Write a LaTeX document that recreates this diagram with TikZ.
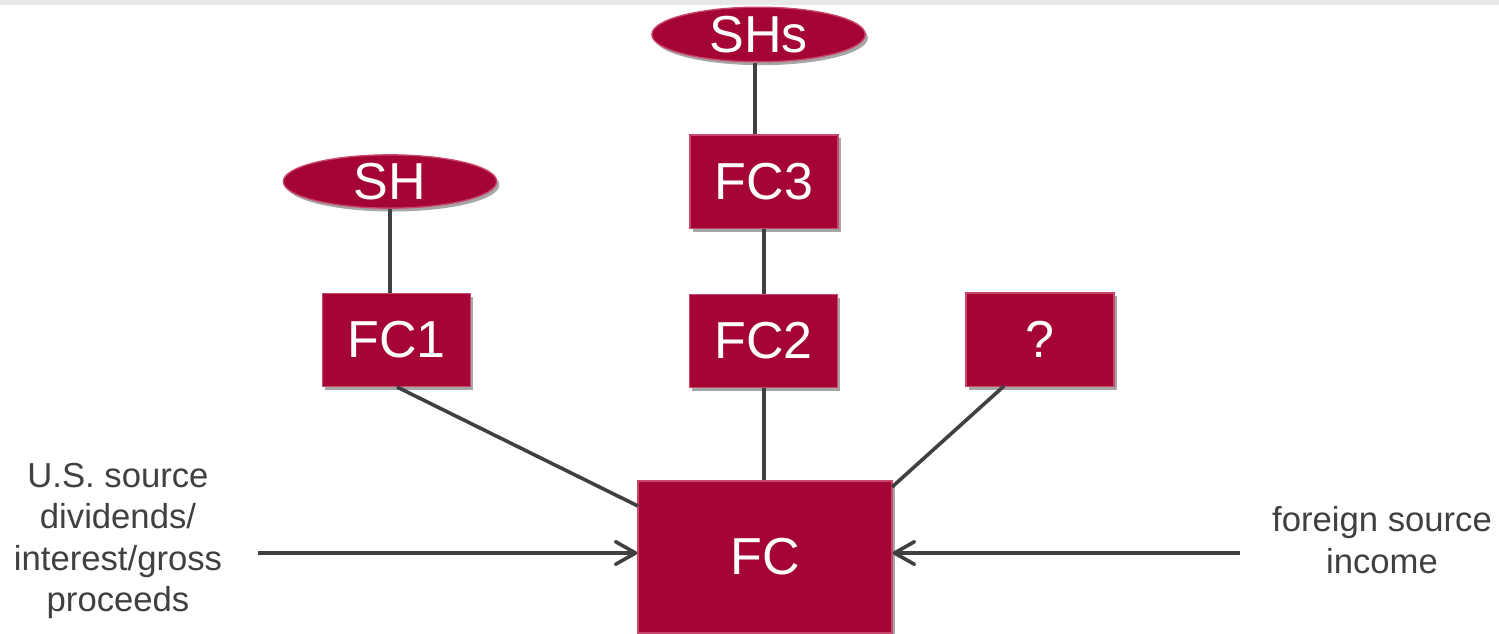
\documentclass[tikz,border=0pt]{standalone}
\usepackage{fontspec}
\setmainfont{Liberation Sans}
\usetikzlibrary{shapes.geometric,shadows,arrows.meta}
\definecolor{crim}{HTML}{A50534}
\definecolor{crimedge}{HTML}{C8476C}
\definecolor{lin}{HTML}{404040}
\definecolor{bar}{HTML}{E8E8E8}
\tikzset{
  shad/.style={drop shadow={shadow xshift=2pt,shadow yshift=-2.5pt,opacity=0.35,fill=black}},
  entbox/.style={rectangle,fill=crim,draw=crimedge,line width=1pt,text=white,inner sep=0pt,
     minimum width=111pt,minimum height=70pt,font=\fontsize{39}{44}\selectfont,shad},
  shell/.style={ellipse,fill=crim,draw=crimedge,line width=1pt,text=white,inner sep=0pt,
     font=\fontsize{39}{44}\selectfont,shad},
  conn/.style={draw=lin,line width=2.7pt},
  arr/.style={conn,-{Straight Barb[length=15pt,width=17pt,line cap=round,line join=round]}},
  lab/.style={align=center,text=lin,font=\fontsize{26}{31}\selectfont,inner sep=0pt}
}
\begin{document}
\begin{tikzpicture}[x=0.75pt,y=-0.75pt]
\useasboundingbox (0,0) rectangle (1499,633);
\fill[bar] (0,0) rectangle (1499,5);
\node[shell,minimum width=160pt,minimum height=41pt] (shs) at (758.5,34.5) {SHs};
\node[shell,minimum width=160pt,minimum height=40pt] (sh) at (390,181.5) {SH};
\node[entbox] (fc3) at (764,181.5) {FC3};
\node[entbox] (fc1) at (396.5,340) {FC1};
\node[entbox] (fc2) at (763.5,341) {FC2};
\node[entbox] (q) at (1040,339.5) {?};
\node[entbox,minimum width=190.5pt,minimum height=114pt] (fc) at (765,557) {FC};
\node[lab] (us) at (118,541) {U.S. source\\dividends/\\interest/gross\\proceeds};
\node[lab] (fs) at (1382,540) {foreign source\\income};
\coordinate (usend) at (258,553);
\coordinate (fsend) at (1240,553);
\coordinate (xa) at (755,0);
\coordinate (xb) at (390,0);
\coordinate (xc) at (764,0);
\coordinate (a1) at (397,387);
\coordinate (b1) at (638,506);
\coordinate (a2) at (1004,386);
\coordinate (b2) at (892,487);
\draw[conn] (shs.south -| xa) -- (fc3.north -| xa);
\draw[conn] (sh.south -| xb) -- (fc1.north -| xb);
\draw[conn] (fc3.south -| xc) -- (fc2.north -| xc);
\draw[conn] (fc2.south -| xc) -- (fc.north -| xc);
\draw[conn] (a1) -- (b1);
\draw[conn] (a2) -- (b2);
\draw[arr] (usend) -- (fc.west |- usend);
\draw[arr] (fsend) -- (fc.east |- fsend);
\end{tikzpicture}
\end{document}
